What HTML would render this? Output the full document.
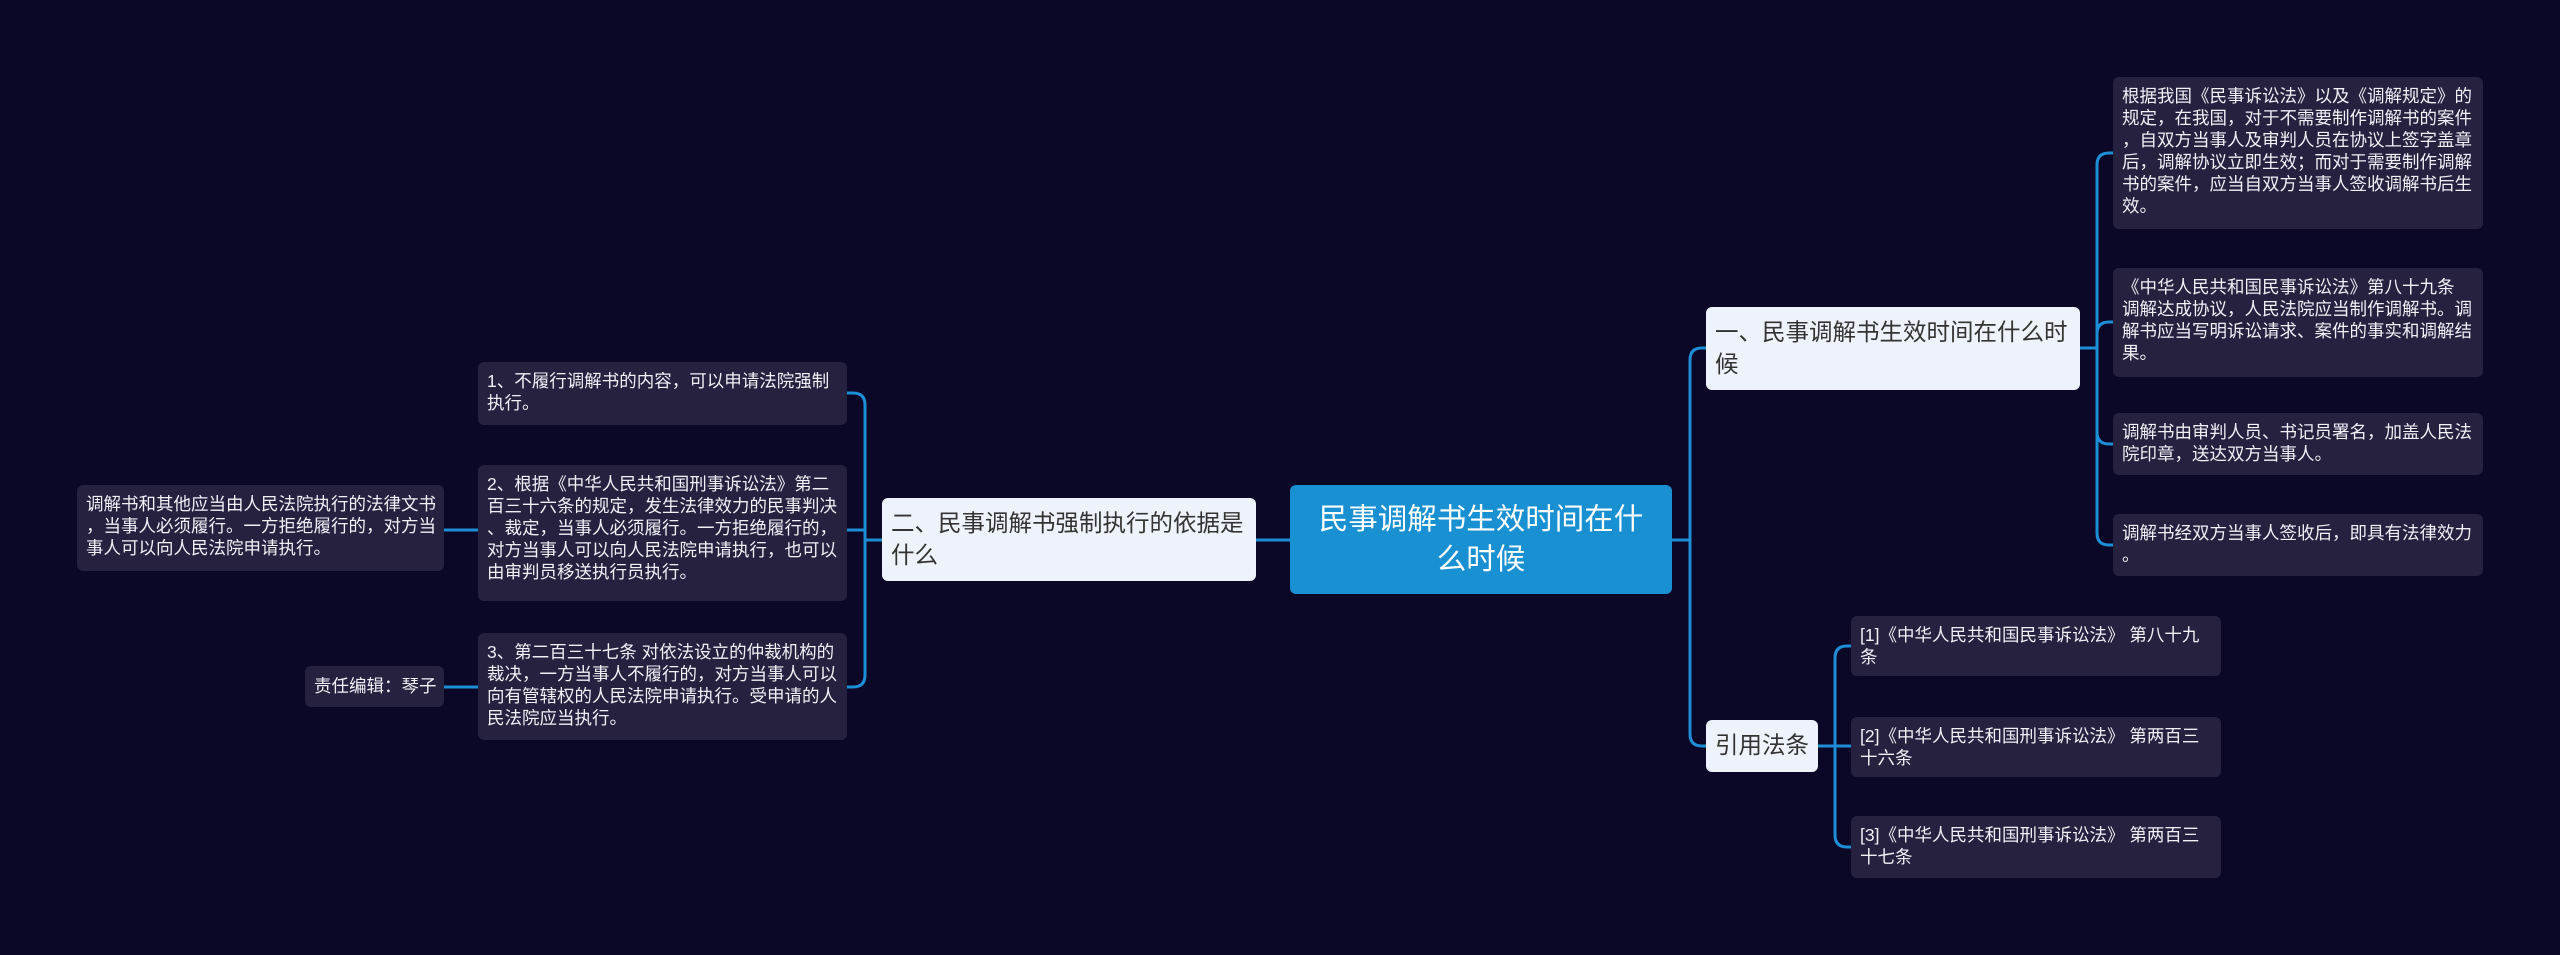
<!DOCTYPE html>
<html><head><meta charset="utf-8"><style>
body{margin:0;width:2560px;height:955px;background:#0b0727;overflow:hidden;position:relative;font-family:"Liberation Sans","Noto Sans CJK SC",sans-serif}
.n{position:absolute;box-sizing:border-box;border-radius:6px}
.leaf{background:#25213f;color:#f0f0f6;font-size:17.5px;line-height:22px;padding:8px 7px 8px 9px;word-break:break-all;line-break:anywhere}
.br{background:#eef3fb;color:#333;font-size:23.5px;line-height:32px;padding:9px 9px}
.root{background:#1890d2;color:#fff;font-size:29.5px;line-height:40px;text-align:center;display:flex;align-items:center;justify-content:center;padding:0 18px}
svg{position:absolute;left:0;top:0}
</style></head><body>
<svg width="2560" height="955" fill="none" stroke="#1e8fd6" stroke-width="3">
<path d="M1672 540 H1690 V360 Q1690 348 1702 348 H1706"/>
<path d="M1672 540 H1690 V734 Q1690 746 1702 746 H1706"/>
<path d="M2080 348 H2097 V165 Q2097 153 2109 153 H2113"/>
<path d="M2080 348 H2097 V334 Q2097 322 2109 322 H2113"/>
<path d="M2080 348 H2097 V432 Q2097 444 2109 444 H2113"/>
<path d="M2080 348 H2097 V533 Q2097 545 2109 545 H2113"/>
<path d="M1818 746 H1835 V658 Q1835 646 1847 646 H1851"/>
<path d="M1818 746 H1851"/>
<path d="M1818 746 H1835 V835 Q1835 847 1847 847 H1851"/>
<path d="M1290 540 H882"/>
<path d="M882 540 H865 V405 Q865 393 853 393 H847"/>
<path d="M882 540 H865 V530 H847"/>
<path d="M882 540 H865 V675 Q865 687 853 687 H847"/>
<path d="M478 530 H444"/>
<path d="M478 687 H444"/>
</svg>
<div class="n root" style="left:1290px;top:485px;width:382px;height:109px">民事调解书生效时间在什么时候</div>
<div class="n br" style="left:1706px;top:307px;width:374px;height:83px">一、民事调解书生效时间在什么时候</div>
<div class="n br" style="left:1706px;top:720px;width:112px;height:52px">引用法条</div>
<div class="n br" style="left:882px;top:498px;width:374px;height:83px">二、民事调解书强制执行的依据是什么</div>
<div class="n leaf" style="left:2113px;top:77px;width:370px;height:152px">根据我国《民事诉讼法》以及《调解规定》的规定，在我国，对于不需要制作调解书的案件，自双方当事人及审判人员在协议上签字盖章后，调解协议立即生效；而对于需要制作调解书的案件，应当自双方当事人签收调解书后生效。</div>
<div class="n leaf" style="left:2113px;top:268px;width:370px;height:109px">《中华人民共和国民事诉讼法》第八十九条 调解达成协议，人民法院应当制作调解书。调解书应当写明诉讼请求、案件的事实和调解结果。</div>
<div class="n leaf" style="left:2113px;top:413px;width:370px;height:62px">调解书由审判人员、书记员署名，加盖人民法院印章，送达双方当事人。</div>
<div class="n leaf" style="left:2113px;top:514px;width:370px;height:62px">调解书经双方当事人签收后，即具有法律效力。</div>
<div class="n leaf" style="left:1851px;top:616px;width:370px;height:60px">[1]《中华人民共和国民事诉讼法》 第八十九条</div>
<div class="n leaf" style="left:1851px;top:717px;width:370px;height:60px">[2]《中华人民共和国刑事诉讼法》 第两百三十六条</div>
<div class="n leaf" style="left:1851px;top:816px;width:370px;height:62px">[3]《中华人民共和国刑事诉讼法》 第两百三十七条</div>
<div class="n leaf" style="left:478px;top:362px;width:369px;height:63px">1、不履行调解书的内容，可以申请法院强制执行。</div>
<div class="n leaf" style="left:478px;top:465px;width:369px;height:136px">2、根据《中华人民共和国刑事诉讼法》第二百三十六条的规定，发生法律效力的民事判决、裁定，当事人必须履行。一方拒绝履行的，对方当事人可以向人民法院申请执行，也可以由审判员移送执行员执行。</div>
<div class="n leaf" style="left:478px;top:633px;width:369px;height:107px">3、第二百三十七条 对依法设立的仲裁机构的裁决，一方当事人不履行的，对方当事人可以向有管辖权的人民法院申请执行。受申请的人民法院应当执行。</div>
<div class="n leaf" style="left:77px;top:485px;width:367px;height:86px">调解书和其他应当由人民法院执行的法律文书，当事人必须履行。一方拒绝履行的，对方当事人可以向人民法院申请执行。</div>
<div class="n leaf" style="left:305px;top:666px;width:139px;height:41px;white-space:nowrap;padding-top:9px">责任编辑：琴子</div>
</body></html>
